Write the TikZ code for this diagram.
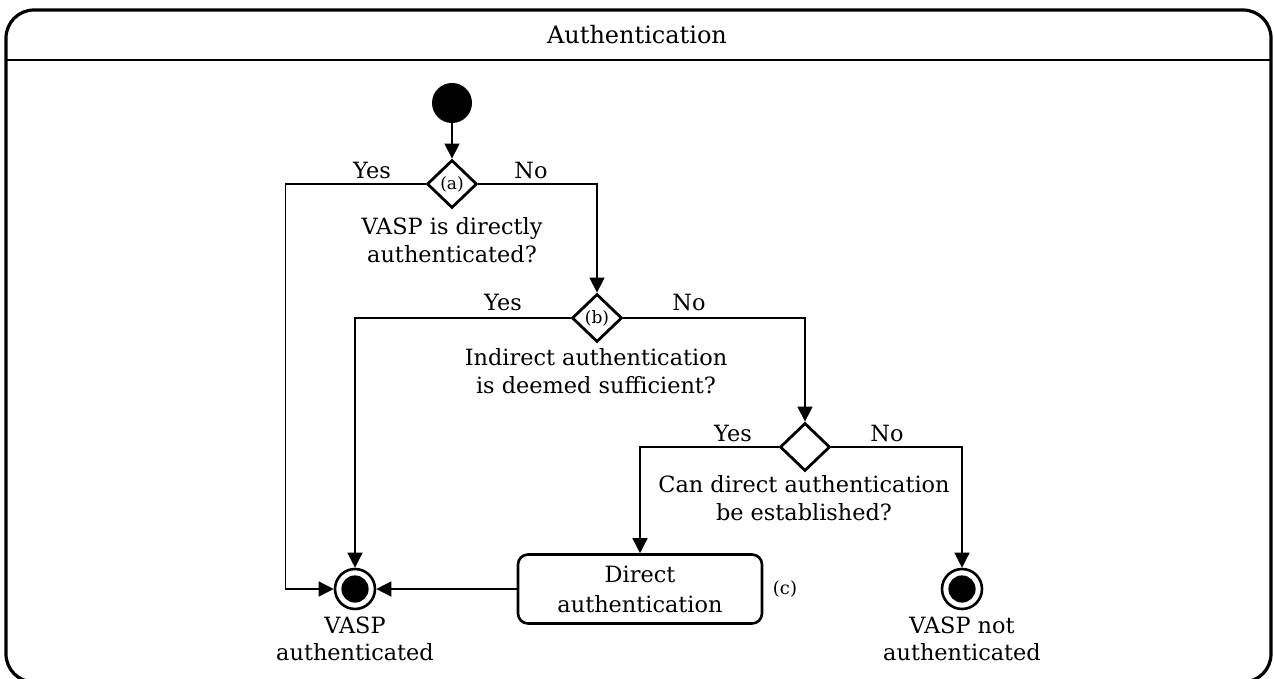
\documentclass[tikz,border=0pt]{standalone}
\usepackage{fontspec}
\setmainfont{DejaVu Serif}
\usetikzlibrary{shapes.geometric,arrows.meta}
\tikzset{
  conn/.style={line width=0.7pt,-{Triangle[length=7.5pt,width=7.5pt]}},
  decision/.style={diamond,draw,line width=1.4pt,minimum width=25pt,minimum height=24pt,inner sep=0pt,font=\fontsize{8.5}{9}\selectfont},
  startnode/.style={circle,fill=black,minimum size=20pt,inner sep=0pt},
  finalnode/.style={circle,draw,line width=1.3pt,minimum size=20pt,inner sep=0pt,
    path picture={\fill (path picture bounding box.center) circle (6.8pt);}},
  actionbox/.style={draw,line width=1.3pt,rounded corners=5pt,minimum width=122pt,minimum height=34.5pt,align=center,inner sep=0pt,font=\fontsize{11.2}{15}\selectfont},
  txt/.style={align=center,inner sep=0pt,font=\fontsize{11.2}{13.7}\selectfont},
  lbl/.style={inner sep=0pt,font=\fontsize{11.2}{13}\selectfont},
}
\begin{document}
\begin{tikzpicture}[x=0.5pt,y=-0.5pt]
\useasboundingbox (0,0) rectangle (1274,679);
% frame
\draw[line width=1.6pt,rounded corners=14pt] (6,10) rectangle (1271,682);
\draw[line width=0.8pt] (6,60) -- (1271,60);
\node[inner sep=0pt,font=\fontsize{12}{14}\selectfont] (title) at (637,35) {Authentication};
% nodes
\node[startnode] (s) at (452,103) {};
\node[decision] (a) at (452,184) {(a)};
\node[decision] (b) at (597,318) {(b)};
\node[decision] (c) at (805,447) {};
\node[finalnode] (f1) at (355,589) {};
\node[finalnode] (f2) at (962,589) {};
\node[actionbox] (box) at (640,589) {Direct\\authentication};
\node[inner sep=0pt,font=\fontsize{9}{10}\selectfont] (clab) at (785,589) {(c)};
% texts
\node[txt] (qa) at (452,240) {VASP is directly\\authenticated?};
\node[txt] (qb) at (596,371) {Indirect authentication\\is deemed sufficient?};
\node[txt] (qc) at (804,498) {Can direct authentication\\be established?};
\node[txt] (t1) at (355,639) {VASP\\authenticated};
\node[txt] (t2) at (962,639) {VASP not\\authenticated};
% branch labels
\node[lbl] (ay) at (372,170) {Yes};
\node[lbl] (an) at (531,170) {No};
\node[lbl] (by) at (503,302) {Yes};
\node[lbl] (bn) at (689,302) {No};
\node[lbl] (cy) at (733,433) {Yes};
\node[lbl] (cn) at (887,433) {No};
% connectors
\draw[conn] (s) -- (a);
\draw[conn] (a.west) -- ++(-140,0) |- (f1.west);
\draw[conn] (a.east) -| (b.north);
\draw[conn] (b.west) -| (f1.north);
\draw[conn] (b.east) -| (c.north);
\draw[conn] (c.west) -| (box.north);
\draw[conn] (c.east) -| (f2.north);
\draw[conn] (box.west) -- (f1.east);
\end{tikzpicture}
\end{document}
